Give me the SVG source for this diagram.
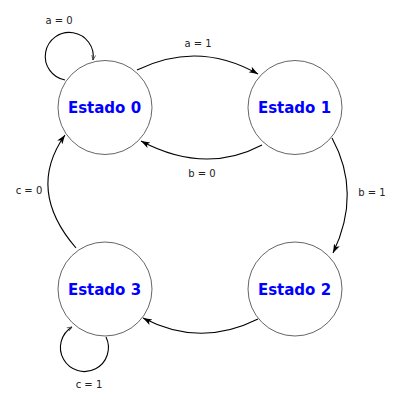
<svg xmlns="http://www.w3.org/2000/svg" width="411" height="411" viewBox="0 0 411 411">
<style>
.node circle{fill:#fff;stroke:#666;stroke-width:1}
.node text{font-family:"DejaVu Sans",sans-serif;font-weight:bold;font-size:15px;fill:#0000ff;text-anchor:middle}
.edge{fill:none;stroke:#000;stroke-width:1.1}
.lbl{font-family:"DejaVu Sans",sans-serif;font-size:10px;fill:#222;text-anchor:middle}
</style>
<defs>
<marker id="ah" viewBox="0 0 10 10" refX="10" refY="5" markerWidth="9" markerHeight="9" markerUnits="userSpaceOnUse" orient="auto">
<path d="M0,1.5 L10,5 L0,8.5 L2.5,5 Z" fill="#000"/>
</marker>
<marker id="av" viewBox="0 0 10 10" refX="10" refY="5" markerWidth="5" markerHeight="5" markerUnits="userSpaceOnUse" orient="auto">
<path d="M0,1 L10,5 L0,9" fill="none" stroke="#333" stroke-width="1.4"/>
</marker>
</defs>
<g id="connectors">
<path class="edge" d="M137,70 Q198,40 258,74" marker-end="url(#ah)"/>
<path class="edge" d="M262,145 Q205,175 141,141" marker-end="url(#ah)"/>
<path class="edge" d="M332,138 Q362,193 333,253" marker-end="url(#ah)"/>
<path class="edge" d="M258,319 Q200,348 143,318" marker-end="url(#ah)"/>
<path class="edge" d="M76,248 Q26,190 65,135" marker-end="url(#ah)"/>
<path class="edge" d="M65,80 A24,24 0 1 1 93,60" marker-end="url(#av)"/>
<path class="edge" d="M106,337 A24,24 0 1 1 72,327" marker-end="url(#av)"/>
<text class="lbl" x="59" y="24">a = 0</text>
<text class="lbl" x="198" y="47">a = 1</text>
<text class="lbl" x="202" y="177">b = 0</text>
<text class="lbl" x="372" y="196">b = 1</text>
<text class="lbl" x="29" y="194">c = 0</text>
<text class="lbl" x="89" y="388">c = 1</text>
</g>
<g id="estado0" class="node"><circle cx="105" cy="107.5" r="47"/><text x="104.5" y="113">Estado 0</text></g>
<g id="estado1" class="node"><circle cx="295" cy="107.5" r="47"/><text x="294.5" y="113">Estado 1</text></g>
<g id="estado2" class="node"><circle cx="295" cy="289" r="47"/><text x="294.5" y="295">Estado 2</text></g>
<g id="estado3" class="node"><circle cx="105" cy="289" r="47"/><text x="104.5" y="295">Estado 3</text></g>
</svg>
